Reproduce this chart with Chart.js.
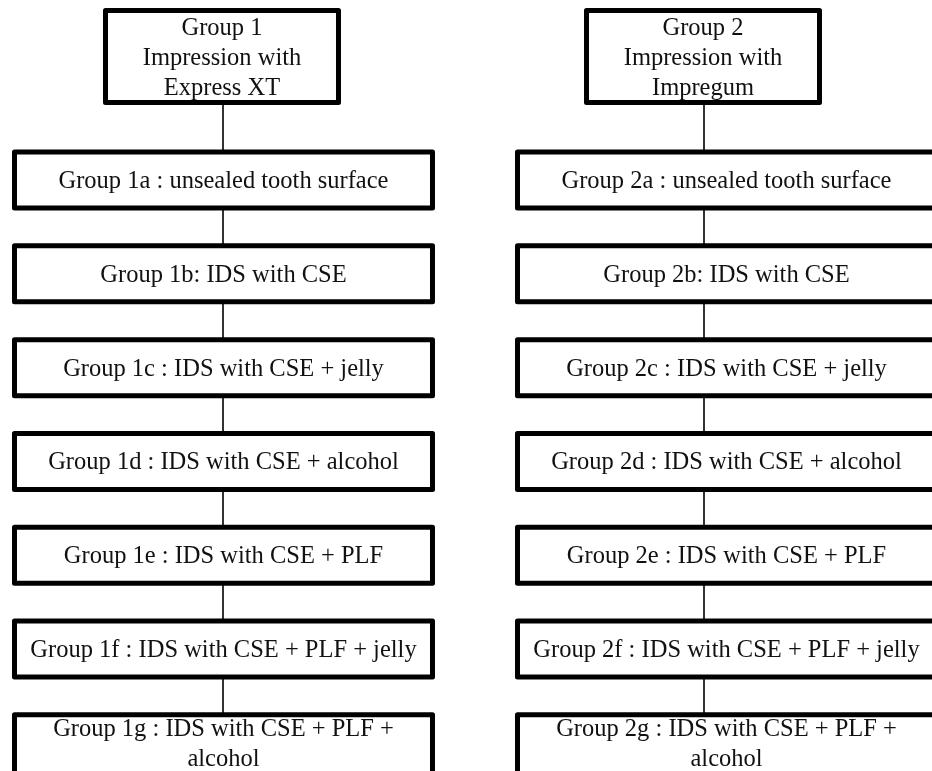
<!DOCTYPE html>
<html>
<head>
<meta charset="utf-8">
<script src="https://cdn.jsdelivr.net/npm/chart.js@4"></script>
<style>
  html, body { margin: 0; padding: 0; background: #fff; }
  #wrap { width: 932px; height: 771px; }
</style>
</head>
<body>
<div id="wrap"><canvas id="flow" width="932" height="771"></canvas></div>
<script>
// column index of each group, level index of each box (0 = header)
const columns = [0, 1];
const levels = [0, 1, 2, 3, 4, 5, 6, 7];

const group1Boxes = [
  ['Group 1', 'Impression with', 'Express XT'],
  ['Group 1a : unsealed tooth surface'],
  ['Group 1b: IDS with CSE'],
  ['Group 1c : IDS with CSE + jelly'],
  ['Group 1d : IDS with CSE + alcohol'],
  ['Group 1e : IDS with CSE + PLF'],
  ['Group 1f : IDS with CSE + PLF + jelly'],
  ['Group 1g : IDS with CSE + PLF +', 'alcohol']
];

const group2Boxes = [
  ['Group 2', 'Impression with', 'Impregum'],
  ['Group 2a : unsealed tooth surface'],
  ['Group 2b: IDS with CSE'],
  ['Group 2c : IDS with CSE + jelly'],
  ['Group 2d : IDS with CSE + alcohol'],
  ['Group 2e : IDS with CSE + PLF'],
  ['Group 2f : IDS with CSE + PLF + jelly'],
  ['Group 2g : IDS with CSE + PLF +', 'alcohol']
];

const allBoxes = [group1Boxes, group2Boxes];

// draws connectors + boxes on top of the (invisible) scatter points
const flowBoxes = {
  id: 'flowBoxes',
  afterDatasetsDraw(chart, args, opts) {
    const ctx = chart.ctx;
    ctx.save();
    chart.data.datasets.forEach((ds, di) => {
      const pts = chart.getDatasetMeta(di).data;

      // connectors
      ctx.strokeStyle = opts.lineColor;
      ctx.lineWidth = opts.lineWidth;
      ctx.beginPath();
      for (let i = 0; i < pts.length - 1; i++) {
        ctx.moveTo(pts[i].x, pts[i].y);
        ctx.lineTo(pts[i].x, pts[i + 1].y);
      }
      ctx.stroke();

      // boxes
      pts.forEach((p, i) => {
        const header = i === 0;
        const lines = ds.labels[i];
        const w = header ? opts.headerW : opts.boxW;
        const h = header ? opts.headerH : opts.boxH;
        // two-line sub boxes grow downward only
        const extra = header ? 0 : (lines.length - 1) * opts.extraPerLine;
        const cx = p.x + (header ? opts.headerShift[di] : opts.boxShift[di]);
        const cy = p.y + (header ? opts.headerYOffset : 0);
        const lw = opts.borderWidth;
        const x0 = cx - w / 2 + lw / 2;
        const y0 = cy - h / 2 + lw / 2;
        ctx.fillStyle = '#fff';
        ctx.fillRect(x0, y0, w - lw, h - lw + extra);
        ctx.lineJoin = 'round';
        ctx.lineWidth = lw;
        ctx.strokeStyle = opts.borderColor;
        ctx.strokeRect(x0, y0, w - lw, h - lw + extra);

        ctx.fillStyle = opts.textColor;
        ctx.font = opts.font;
        ctx.textAlign = 'center';
        ctx.textBaseline = 'alphabetic';
        const startY = cy - (lines.length - 1) * opts.lineHeight / 2 + opts.baselineDrop;
        lines.forEach((t, k) => ctx.fillText(t, cx, startY + k * opts.lineHeight));
      });
    });
    ctx.restore();
  }
};

new Chart(document.getElementById('flow'), {
  type: 'scatter',
  data: {
    datasets: columns.map(c => ({
      label: 'Group ' + (c + 1),
      labels: allBoxes[c],
      data: levels.map(l => ({ x: c, y: l })),
      pointRadius: 0,
      pointHoverRadius: 0
    }))
  },
  options: {
    responsive: false,
    animation: false,
    events: [],
    layout: { padding: 0 },
    scales: {
      x: { type: 'linear', display: false, min: -0.4636, max: 1.474 },
      y: { type: 'linear', display: false, reverse: true, min: -0.919, max: 7.30 }
    },
    plugins: {
      legend: { display: false },
      tooltip: { enabled: false },
      flowBoxes: {
        boxW: 423,
        boxH: 61,
        headerW: 238,
        headerH: 97,
        headerYOffset: -29.7,
        extraPerLine: 12,
        boxShift: [0.5, 22.5],
        headerShift: [-1, -1],
        borderWidth: 5,
        borderColor: '#000',
        lineWidth: 2,
        lineColor: '#333',
        textColor: '#111',
        font: '24.5px "Liberation Serif", "Times New Roman", serif',
        lineHeight: 30,
        baselineDrop: 8
      }
    }
  },
  plugins: [flowBoxes]
});
</script>
</body>
</html>
